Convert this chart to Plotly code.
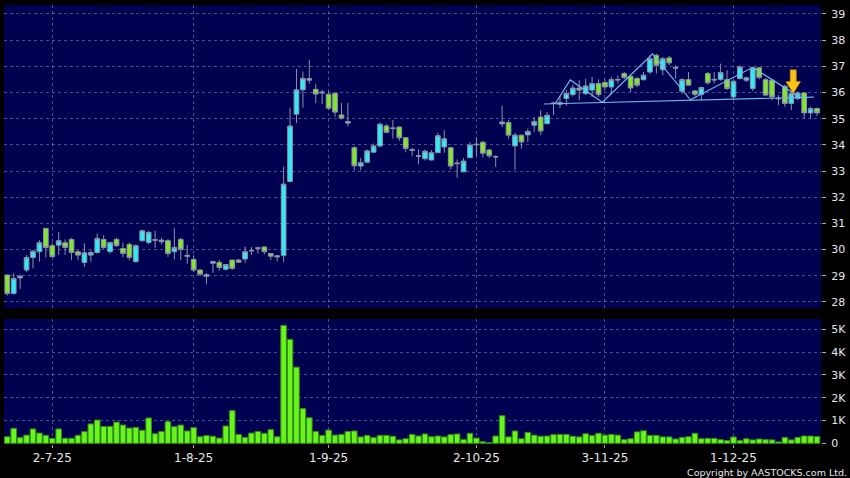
import plotly.graph_objects as go

# Daily OHLC (one entry per trading day, left to right)
opens = [29.03, 28.32, 28.92, 29.22, 29.70, 29.92, 30.81, 30.15, 30.17, 30.26,
         30.39, 29.92, 29.51, 29.79, 29.89, 30.39, 29.92, 30.39, 30.04, 30.20,
         29.54, 30.34, 30.27, 30.38, 30.30, 30.34, 29.92, 30.39, 29.78, 29.62,
         29.22, 28.98, 29.48, 29.51, 29.25, 29.60, 29.60, 29.64, 29.95, 30.05,
         30.10, 29.85, 29.72, 29.77, 32.60, 35.17, 36.10, 36.47, 36.12, 35.98,
         35.93, 35.97, 35.14, 34.83, 33.89, 33.19, 33.34, 33.72, 33.96, 34.72,
         34.62, 34.68, 34.27, 33.79, 33.56, 33.47, 33.42, 33.70, 33.92, 33.89,
         33.28, 32.97, 33.51, 34.00, 34.10, 33.80, 33.55, 34.80, 34.85, 33.96,
         34.37, 34.38, 34.75, 35.06, 34.81, 35.60, 35.55, 35.77, 35.92, 36.17,
         35.96, 36.09, 36.34, 36.38, 36.21, 36.50, 36.72, 36.62, 36.53, 36.49,
         36.78, 37.42, 36.87, 37.32, 36.95, 36.05, 36.49, 36.06, 35.92, 36.72,
         36.50, 36.50, 36.49, 35.83, 36.53, 36.47, 36.15, 36.94, 36.49, 36.47,
         35.78, 36.24, 35.58, 35.77, 35.98, 35.22, 35.39]
highs = [29.05, 29.10, 29.05, 29.79, 29.98, 30.36, 30.81, 30.24, 30.68, 30.39,
         30.45, 29.98, 30.24, 29.98, 30.62, 30.55, 30.30, 30.45, 30.27, 30.27,
         30.20, 30.76, 30.70, 30.72, 30.45, 30.40, 30.81, 30.45, 30.18, 29.78,
         29.25, 29.10, 29.58, 29.60, 29.45, 29.62, 29.65, 30.11, 30.10, 30.11,
         30.12, 29.87, 29.80, 33.17, 35.42, 36.90, 36.80, 37.24, 36.33, 36.11,
         36.05, 35.97, 35.60, 35.60, 33.95, 33.50, 33.82, 34.05, 34.85, 34.80,
         34.95, 34.70, 34.30, 33.89, 33.82, 33.82, 33.80, 34.46, 34.56, 33.92,
         33.44, 33.50, 34.10, 34.27, 34.15, 33.85, 33.60, 35.50, 34.95, 34.45,
         34.40, 34.62, 35.06, 35.32, 35.25, 35.65, 35.86, 36.10, 36.30, 36.47,
         36.53, 36.60, 36.50, 36.50, 36.60, 36.65, 36.78, 36.65, 36.60, 36.78,
         37.42, 37.48, 37.36, 37.40, 37.04, 36.55, 36.78, 36.10, 36.22, 36.78,
         36.78, 37.10, 36.85, 36.47, 37.04, 36.60, 36.98, 36.98, 36.55, 36.50,
         35.90, 36.30, 36.00, 36.05, 36.00, 35.45, 35.42]
lows = [28.25, 28.30, 28.50, 29.15, 29.28, 29.54, 29.70, 29.70, 29.80, 29.80,
        29.60, 29.60, 29.34, 29.54, 29.85, 30.00, 29.85, 30.10, 29.70, 29.60,
        29.50, 30.30, 30.20, 30.07, 30.20, 29.72, 29.62, 29.60, 29.46, 29.15,
        29.00, 28.70, 29.11, 29.20, 29.20, 29.22, 29.50, 29.50, 29.79, 29.85,
        29.82, 29.60, 29.55, 29.52, 32.60, 34.83, 35.42, 36.33, 35.59, 35.56,
        35.33, 35.07, 34.97, 34.70, 33.03, 33.03, 33.30, 33.70, 33.90, 34.45,
        34.24, 34.15, 33.72, 33.57, 33.25, 33.40, 33.40, 33.70, 33.70, 33.06,
        32.75, 32.95, 33.50, 33.57, 33.52, 33.50, 33.16, 34.68, 34.24, 33.04,
        33.86, 34.11, 34.50, 34.37, 34.78, 35.14, 35.40, 35.50, 35.85, 35.70,
        35.90, 35.83, 35.83, 36.10, 35.92, 36.35, 36.50, 36.02, 36.20, 36.45,
        36.70, 36.72, 36.66, 37.05, 36.53, 35.95, 36.25, 35.85, 35.70, 36.30,
        36.35, 36.45, 36.10, 35.70, 36.50, 36.40, 36.05, 36.50, 35.85, 35.70,
        35.51, 35.45, 35.32, 35.70, 35.00, 35.00, 35.10]
closes = [28.32, 28.90, 28.98, 29.70, 29.94, 30.26, 30.08, 29.73, 30.34, 30.08,
          29.89, 29.79, 29.88, 29.89, 30.43, 30.08, 30.27, 30.15, 29.85, 29.70,
          30.15, 30.72, 30.66, 30.36, 30.36, 29.85, 30.08, 30.00, 29.75, 29.22,
          29.06, 29.04, 29.54, 29.32, 29.43, 29.28, 29.52, 29.92, 29.96, 30.06,
          29.92, 29.75, 29.76, 32.50, 34.72, 36.10, 36.54, 36.53, 35.94, 36.01,
          35.40, 35.25, 35.02, 34.89, 33.20, 33.32, 33.77, 33.96, 34.79, 34.48,
          34.64, 34.27, 33.86, 33.81, 33.58, 33.76, 33.70, 34.35, 34.23, 33.19,
          33.30, 33.38, 33.99, 34.02, 33.68, 33.58, 33.54, 34.87, 34.37, 34.37,
          34.11, 34.51, 34.89, 34.53, 35.13, 35.58, 35.61, 35.96, 36.17, 36.09,
          36.25, 36.34, 35.92, 36.21, 36.49, 36.48, 36.57, 36.17, 36.28, 36.66,
          37.29, 37.04, 37.29, 37.13, 36.93, 36.49, 36.28, 35.93, 36.19, 36.37,
          36.48, 36.76, 36.15, 36.43, 36.97, 36.56, 36.94, 36.57, 35.90, 35.83,
          35.76, 35.58, 35.96, 35.98, 35.22, 35.39, 35.22]

# Volume in thousands
volumes_k = [0.29, 0.66, 0.25, 0.36, 0.63, 0.45, 0.35, 0.22, 0.63, 0.22,
             0.22, 0.35, 0.51, 0.85, 1.02, 0.74, 0.74, 0.93, 0.80, 0.67,
             0.70, 0.57, 1.11, 0.42, 0.52, 0.95, 0.73, 0.80, 0.54, 0.69,
             0.29, 0.34, 0.31, 0.23, 0.76, 1.43, 0.39, 0.26, 0.45, 0.52,
             0.44, 0.60, 0.29, 5.17, 4.56, 3.34, 1.52, 1.12, 0.52, 0.34,
             0.58, 0.36, 0.39, 0.52, 0.54, 0.28, 0.35, 0.25, 0.35, 0.35,
             0.31, 0.15, 0.20, 0.39, 0.32, 0.41, 0.29, 0.32, 0.28, 0.38,
             0.41, 0.17, 0.44, 0.23, 0.07, 0.03, 0.32, 1.21, 0.28, 0.54,
             0.20, 0.48, 0.36, 0.31, 0.32, 0.38, 0.39, 0.39, 0.31, 0.28,
             0.42, 0.34, 0.44, 0.36, 0.39, 0.36, 0.16, 0.20, 0.50, 0.55,
             0.35, 0.35, 0.28, 0.28, 0.19, 0.26, 0.29, 0.44, 0.20, 0.22,
             0.22, 0.16, 0.12, 0.28, 0.12, 0.20, 0.15, 0.19, 0.16, 0.15,
             0.06, 0.26, 0.15, 0.26, 0.32, 0.32, 0.30]

day_idx = list(range(len(closes)))

# x-axis labels (first trading day of each month) and their day index
month_ticks = [7, 29, 50, 73, 93, 113]
month_labels = ["2-7-25", "1-8-25", "1-9-25", "2-10-25", "3-11-25", "1-12-25"]

price_ticks = list(range(28, 40))
vol_ticks = [0, 1, 2, 3, 4, 5]
vol_labels = ["0", "1K", "2K", "3K", "4K", "5K"]

# Drawn pattern lines (head & shoulders sketch) and the marker arrow
neck_x = [83.5, 125.5]
neck_y = [35.56, 35.82]
zig_x = [85.3, 87.6, 92.6, 100.4, 106.3, 116.0, 123.0]
zig_y = [35.59, 36.48, 35.63, 37.47, 35.72, 36.96, 35.87]
arrow_idx = 122.3
arrow_top, arrow_mid, arrow_tip = 36.86, 36.41, 35.97

BG = "#000050"
GRID = "rgba(140,140,190,0.55)"
TXT = "#e6e6e6"
FONT = "DejaVu Sans"

fig = go.Figure()

fig.add_trace(go.Candlestick(
    x=day_idx, open=opens, high=highs, low=lows, close=closes,
    increasing=dict(fillcolor="#33eaf4", line=dict(color="#8a94a8", width=1)),
    decreasing=dict(fillcolor="#84e62a", line=dict(color="#8a94a8", width=1)),
    whiskerwidth=0, xaxis="x", yaxis="y", hoverinfo="skip",
))

fig.add_trace(go.Scatter(
    x=neck_x, y=neck_y, mode="lines",
    line=dict(color="#6fb6e8", width=1.2), xaxis="x", yaxis="y", hoverinfo="skip",
))
fig.add_trace(go.Scatter(
    x=zig_x, y=zig_y, mode="lines",
    line=dict(color="#6fb6e8", width=1.2), xaxis="x", yaxis="y", hoverinfo="skip",
))

# arrow polygon around its anchor
sw, hw = 0.45, 1.1
ax = [arrow_idx - sw, arrow_idx + sw, arrow_idx + sw, arrow_idx + hw,
      arrow_idx, arrow_idx - hw, arrow_idx - sw, arrow_idx - sw]
ay = [arrow_top, arrow_top, arrow_mid, arrow_mid,
      arrow_tip, arrow_mid, arrow_mid, arrow_top]
fig.add_trace(go.Scatter(
    x=ax, y=ay, mode="lines", fill="toself", fillcolor="#fcc21a",
    line=dict(color="#d89400", width=1), xaxis="x", yaxis="y", hoverinfo="skip",
))

fig.add_trace(go.Bar(
    x=day_idx, y=volumes_k, marker=dict(color="#6af41e", line=dict(color="#2f8c12", width=1)),
    xaxis="x2", yaxis="y2", hoverinfo="skip",
))

x_range = [-0.51, 126.62]
common_x = dict(
    range=x_range, tickvals=month_ticks, showgrid=True, gridcolor=GRID,
    griddash="3px,3px", gridwidth=1, zeroline=False, showline=False,
)
common_y = dict(
    side="right", showgrid=True, gridcolor=GRID, griddash="3px,3px", gridwidth=1,
    zeroline=False, showline=False, ticks="outside", ticklen=4, tickcolor="#aaaaaa",
    tickfont=dict(family=FONT, size=11, color=TXT), ticklabelstandoff=3,
)

fig.update_layout(
    width=850, height=478,
    margin=dict(l=4, r=25, t=5, b=34),
    paper_bgcolor="#000000", plot_bgcolor=BG,
    showlegend=False, bargap=0.13, boxgap=0.27, boxgroupgap=0,
    xaxis=dict(domain=[0, 1], anchor="y", showticklabels=False, ticks="",
               rangeslider=dict(visible=False), **common_x),
    xaxis2=dict(domain=[0, 1], anchor="y2", matches="x", ticktext=month_labels,
                ticks="outside", ticklen=3, tickcolor="#aaaaaa",
                tickfont=dict(family=FONT, size=12, color=TXT), **common_x),
    yaxis=dict(domain=[0.3098, 1], anchor="x", range=[27.77, 39.34],
               tickvals=price_ticks, **common_y),
    yaxis2=dict(domain=[0, 0.2847], anchor="x2", range=[-0.03, 5.45],
                tickvals=vol_ticks, ticktext=vol_labels, **common_y),
    annotations=[dict(
        text="Copyright by AASTOCKS.com Ltd.", xref="paper", yref="paper",
        x=1.034, y=-0.064, xanchor="right", yanchor="middle", showarrow=False,
        font=dict(family=FONT, size=9.5, color=TXT),
    )],
)

# page body has a default 8px margin; drop it so the figure fills the window
fig.write_html("out.html", config={"displayModeBar": False},
               post_script="document.body.style.margin='0';")
